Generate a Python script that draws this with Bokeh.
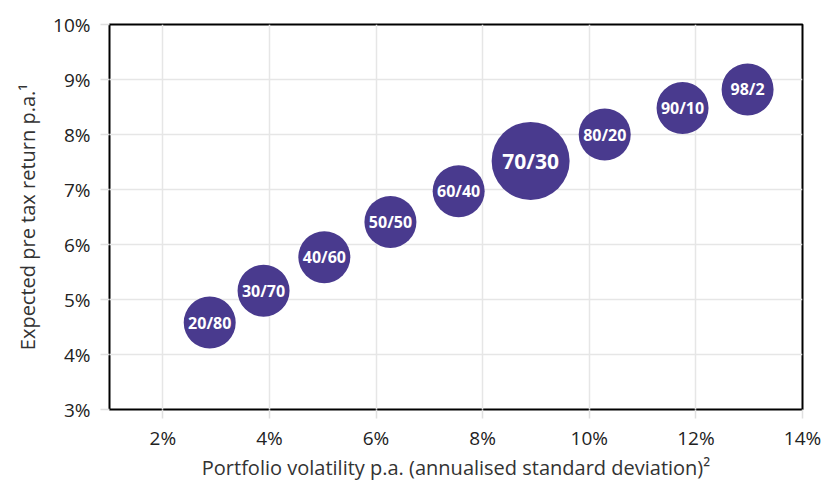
from bokeh.plotting import figure
from bokeh.models import ColumnDataSource, Range1d, FixedTicker, PrintfTickFormatter
from bokeh.core.properties import value
from bokeh.embed import file_html
from bokeh.resources import INLINE
import math

# Data (percent units)
portfolios = ["20/80", "30/70", "40/60", "50/50", "60/40", "70/30", "80/20", "90/10", "98/2"]
volatility = [2.88, 3.89, 5.03, 6.27, 7.55, 8.90, 10.29, 11.75, 12.97]
expected_return = [4.58, 5.16, 5.77, 6.41, 6.97, 7.52, 8.00, 8.48, 8.82]
bubble_weight = [1, 1, 1, 1, 1, 2.25, 1, 1, 1]
x_ticks = [2, 4, 6, 8, 10, 12, 14]
y_ticks = [3, 4, 5, 6, 7, 8, 9, 10]

FONT = "Open Sans"
PURPLE = "#493A8E"

base_d = 52
diam = [base_d * math.sqrt(w) for w in bubble_weight]
fsize = ["%dpx" % round(16 + (w - 1) * 4) for w in bubble_weight]

src = ColumnDataSource(dict(x=volatility, y=expected_return, label=portfolios,
                            d=diam, fs=fsize))

p = figure(width=823, height=483, output_backend="svg", toolbar_location=None,
           x_range=Range1d(1, 14), y_range=Range1d(3, 10),
           min_border_left=109, min_border_right=21, min_border_top=24, min_border_bottom=73)

p.scatter("x", "y", size="d", source=src, fill_color=PURPLE, line_color=None)
p.text("x", "y", text="label", source=src, text_align="center", text_baseline="middle",
       text_color="white", text_font=value(FONT), text_font_style="bold",
       text_font_size="fs")

p.outline_line_color = "black"
p.outline_line_width = 2
p.outline_line_alpha = 1

p.xgrid.ticker = FixedTicker(ticks=x_ticks)
p.ygrid.ticker = FixedTicker(ticks=y_ticks)
p.grid.grid_line_color = "#e6e6e6"
p.grid.grid_line_width = 1.5

for ax in (p.xaxis[0], p.yaxis[0]):
    ax.axis_line_color = None
    ax.major_tick_line_color = "#e0e0e0"
    ax.major_tick_line_width = 1.5
    ax.major_tick_out = 9
    ax.major_tick_in = 0
    ax.minor_tick_line_color = None
    ax.major_label_text_font = FONT
    ax.major_label_text_font_size = "19px"
    ax.major_label_text_color = "#222222"
    ax.axis_label_text_font = FONT
    ax.axis_label_text_font_size = "20px"
    ax.axis_label_text_font_style = "normal"
    ax.axis_label_text_color = "#333333"
    ax.formatter = PrintfTickFormatter(format="%d%%")

p.xaxis[0].ticker = FixedTicker(ticks=x_ticks)
p.yaxis[0].ticker = FixedTicker(ticks=y_ticks)
p.xaxis[0].axis_label = "Portfolio volatility p.a. (annualised standard deviation)\u00b2"
p.yaxis[0].axis_label = "Expected pre tax return p.a.\u00b9"
p.xaxis[0].major_label_standoff = 6
p.yaxis[0].major_label_standoff = 10
p.xaxis[0].axis_label_standoff = 0
p.yaxis[0].axis_label_standoff = 9

open("out.html", "w").write(file_html(p, INLINE))
